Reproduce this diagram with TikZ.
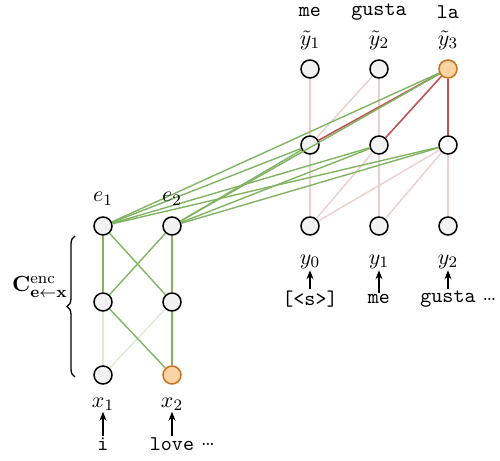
\documentclass[tikz,border=0pt]{standalone}
\usepackage{amsmath,amssymb}
\usepackage{xcolor}
\usepackage{tikz}
\usetikzlibrary{positioning,calc,decorations.pathreplacing,arrows.meta}

\definecolor{encgreen}{RGB}{128,180,98}
\definecolor{palegreen}{RGB}{222,234,212}
\definecolor{palepink}{RGB}{238,205,205}
\definecolor{attred}{RGB}{190,85,85}
\definecolor{unitgray}{RGB}{242,242,242}
\definecolor{hlfill}{RGB}{250,212,165}
\definecolor{hldraw}{RGB}{200,115,30}

\begin{document}
\begin{tikzpicture}[x=0.5pt, y=-0.5pt,
    every node/.style={font=\fontsize{11}{13}\selectfont},
    unit/.style={draw, circle, line width=0.75pt, fill=unitgray, minimum size=9pt, inner sep=0pt},
    hlunit/.style={unit, draw=hldraw, fill=hlfill},
    blankunit/.style={unit, fill=white},
    grn/.style={encgreen, line width=0.7pt},
    fgrn/.style={palegreen, line width=0.7pt},
    pnk/.style={palepink, line width=0.7pt},
    rd/.style={attred, line width=0.8pt},
    lbl/.style={inner sep=0.5pt},
    tok/.style={font=\fontsize{10.5}{13}\selectfont\ttfamily, inner sep=0.5pt},
    inarrow/.style={-{Stealth[length=4.5pt,width=3.5pt]}, line width=0.65pt}]
    \useasboundingbox (0,0) rectangle (500,461);

    % encoder
    \node [unit] (x1) at (103,375) {};
    \node [hlunit] (x2) at (172,375) {};
    \node [unit] (h1) at (103,302) {};
    \node [unit] (h2) at (172,302) {};
    \node [unit] (e1) at (103,226) {};
    \node [unit] (e2) at (172,226) {};

    % decoder
    \node [unit] (y0) at (310,226) {};
    \node [unit] (y1) at (379,226) {};
    \node [unit] (y2) at (448,226) {};
    \node [unit] (d1) at (310,145) {};
    \node [unit] (d2) at (379,145) {};
    \node [blankunit] (d3) at (448,145) {};
    \node [unit] (t1) at (310,69) {};
    \node [unit] (t2) at (379,69) {};
    \node [hlunit] (t3) at (448,69) {};

    % encoder connections
    \draw [fgrn] (x1) -- (h1);
    \draw [fgrn] (x1) -- (h2);
    \draw [grn] (x2) -- (h1);
    \draw [grn] (x2) -- (h2);
    \draw [grn] (h1) -- (e1);
    \draw [grn] (h1) -- (e2);
    \draw [grn] (h2) -- (e1);
    \draw [grn] (h2) -- (e2);

    % decoder connections
    \draw [pnk] (y0) -- (d1);
    \draw [pnk] (y0) -- (d2);
    \draw [pnk] (y0) -- (d3);
    \draw [pnk] (y1) -- (d2);
    \draw [pnk] (y1) -- (d3);
    \draw [pnk] (y2) -- (d3);
    \draw [pnk] (d1) -- (t1);
    \draw [pnk] (d1) -- (t2);
    \draw [pnk] (d2) -- (t2);
    \draw [rd] (d1) -- (t3);
    \draw [rd] (d2) -- (t3);
    \draw [rd] (d3) -- (t3);

    % cross connections
    \draw [grn] (e1) -- (d1);
    \draw [grn] (e1) -- (d2);
    \draw [grn] (e1) -- (d3);
    \draw [grn] (e1) -- (t3);
    \draw [grn] (e2) -- (d1);
    \draw [grn] (e2) -- (d2);
    \draw [grn] (e2) -- (d3);
    \draw [grn] (e2) -- (t3);

    % labels
    \node [above=2pt of e1] (le1) {$e_1$};
    \node [above=2pt of e2] (le2) {$e_2$};
    \node [lbl] (lx1) at (103,404) {$x_1$};
    \node [lbl] (lx2) at (172,404) {$x_2$};
    \node [lbl] (ly0) at (310,262) {$y_0$};
    \node [lbl] (ly1) at (379,262) {$y_1$};
    \node [lbl] (ly2) at (448,262) {$y_2$};
    \node (lt1) at (310,40) {$\tilde{y}_1$};
    \node (lt2) at (379,40) {$\tilde{y}_2$};
    \node (lt3) at (448,40) {$\tilde{y}_3$};

    % tokens
    \node [tok] (wt1) at (310,12) {me};
    \node [tok] (wt2) at (379,12) {gusta};
    \node [tok] (wt3) at (448,12) {la};
    \node [tok] (w0) at (310,299) {[<s>]};
    \node [tok] (w1) at (379,299) {me};
    \node [tok] (w2) at (448,299) {gusta};
    \node [right=2pt of w2, inner sep=0.5pt] (wdots) {\dots};
    \node [tok] (i1) at (103,444) {i};
    \node [tok] (i2) at (172,444) {love};
    \node [right=2pt of i2, inner sep=0.5pt] (idots) {\dots};

    \draw [inarrow] (w0) -- (ly0);
    \draw [inarrow] (w1) -- (ly1);
    \draw [inarrow] (w2) -- (ly2);
    \draw [inarrow] (i1.north |- i2.north) -- (lx1);
    \draw [inarrow] (i2) -- (lx2);

    % brace
    \coordinate (bb) at (75,377);
    \coordinate (bt) at (75,236);
    \draw [decorate, decoration={brace, amplitude=4pt}, line width=0.65pt] (bb) -- (bt);
    \node [inner sep=0pt] (cenc) at (40,287) {$\mathbf{C}^{\mathrm{enc}}_{\mathbf{e}\leftarrow\mathbf{x}}$};
\end{tikzpicture}
\end{document}
